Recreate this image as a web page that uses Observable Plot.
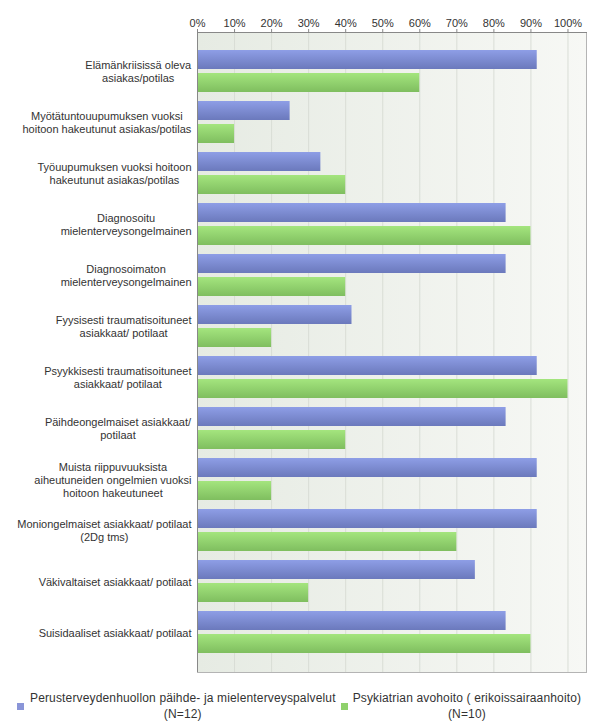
<!DOCTYPE html>
<html><head><meta charset="utf-8">
<script src="https://cdn.jsdelivr.net/npm/d3@7"></script>
<script src="https://cdn.jsdelivr.net/npm/@observablehq/plot@0.6"></script>
<style>
body{margin:0;background:#fff;font-family:"Liberation Sans",Arial,sans-serif;}
#chart{width:600px;height:680px;}
.legend{display:flex;align-items:center;padding-top:10px;font-size:12px;color:#333;line-height:16px;letter-spacing:0.15px}
.item{display:flex;align-items:center}
.sw{width:7px;height:7px;flex:none}
.lt{text-align:center;white-space:nowrap}
</style></head><body><div id="chart"></div><div class="legend" id="legend"></div>
<script>
const categories = [
  "Elämänkriisissä oleva\nasiakas/potilas",
  "Myötätuntouupumuksen vuoksi\nhoitoon hakeutunut asiakas/potilas",
  "Työuupumuksen vuoksi hoitoon\nhakeutunut asiakas/potilas",
  "Diagnosoitu\nmielenterveysongelmainen",
  "Diagnosoimaton\nmielenterveysongelmainen",
  "Fyysisesti traumatisoituneet\nasiakkaat/ potilaat",
  "Psyykkisesti traumatisoituneet\nasiakkaat/ potilaat",
  "Päihdeongelmaiset asiakkaat/\npotilaat",
  "Muista riippuvuuksista\naiheutuneiden ongelmien vuoksi\nhoitoon hakeutuneet",
  "Moniongelmaiset asiakkaat/ potilaat\n(2Dg tms)",
  "Väkivaltaiset asiakkaat/ potilaat",
  "Suisidaaliset asiakkaat/ potilaat"
];
const seriesNames = ["Perusterveydenhuollon päihde- ja mielenterveyspalvelut", "Psykiatrian avohoito ( erikoissairaanhoito)"];
const seriesN = ["(N=12)", "(N=10)"];
const perusValues = [0.917, 0.25, 0.333, 0.833, 0.833, 0.417, 0.917, 0.833, 0.917, 0.917, 0.75, 0.833];
const psykValues  = [0.6, 0.1, 0.4, 0.9, 0.4, 0.2, 1.0, 0.4, 0.2, 0.7, 0.3, 0.9];
const xTicks = [0, 0.1, 0.2, 0.3, 0.4, 0.5, 0.6, 0.7, 0.8, 0.9, 1.0];
const legendColors = ["#8a95d8", "#8fd16c"];

const perusData = categories.map((c, i) => ({category: c, series: seriesNames[0], value: perusValues[i]}));
const psykData = categories.map((c, i) => ({category: c, series: seriesNames[1], value: psykValues[i]}));

const chart = Plot.plot({
  width: 600, height: 680,
  marginTop: 32, marginBottom: 8, marginLeft: 197, marginRight: 14,
  style: {fontFamily: "'Liberation Sans', Arial, sans-serif", fontSize: "11px", color: "#333", background: "transparent"},
  x: {domain: [0, 1.05]},
  y: {domain: categories, paddingInner: 0.17, paddingOuter: 0.263},
  marks: [
    Plot.frame({fill: "url(#bgGrad)", stroke: "#b4b4b4"}),
    Plot.gridX(xTicks, {stroke: "#d9ddd6", strokeOpacity: 1}),
    Plot.barX(perusData, {x: "value", y: "category", fill: "url(#gBlue)", insetBottom: 23}),
    Plot.barX(psykData, {x: "value", y: "category", fill: "url(#gGreen)", insetTop: 23}),
    Plot.frame({anchor: "top", stroke: "#888"}),
    Plot.ruleX([0], {stroke: "#888"}),
    Plot.axisX(xTicks, {anchor: "top", label: null, tickFormat: d3.format(".0%"), tickSize: 4, tickPadding: 2, stroke: "#888", fill: "#333"}),
    Plot.axisY({anchor: "left", label: null, tickSize: 0, tickPadding: 6, textAnchor: "middle", lineHeight: 1.2, fill: "#333"})
  ]
});

const svg = d3.select(chart);
const defs = svg.insert("defs", ":first-child");
function vgrad(id, stops, horizontal) {
  const g = defs.append("linearGradient").attr("id", id)
    .attr("x1", 0).attr("y1", 0).attr("x2", horizontal ? 1 : 0).attr("y2", horizontal ? 0 : 1);
  stops.forEach(([o, c]) => g.append("stop").attr("offset", o).attr("stop-color", c));
}
vgrad("gBlue", [[0, "#8e9ee6"], [1, "#6b79bc"]]);
vgrad("gGreen", [[0, "#a4e57e"], [1, "#7fbe5f"]]);
vgrad("bgGrad", [[0, "#e6ebe3"], [1, "#f7f8f5"]], true);

document.getElementById("chart").append(chart);

svg.selectAll('g[aria-label="y-axis tick label"] text').each(function () {
  const w = this.getBBox().width;
  const t = this.getAttribute("transform") || "";
  this.setAttribute("transform", t + ` translate(${-w / 2},0)`);
});

const legend = d3.select("#legend");
seriesNames.forEach((s, i) => {
  const item = legend.append("div").attr("class", "item").style("margin-left", i === 0 ? "17px" : "5px");
  item.append("div").attr("class", "sw").style("background", legendColors[i]).style("margin-right", i === 0 ? "6px" : "5px");
  item.append("div").attr("class", "lt").html(s + "<br>" + seriesN[i]);
});
</script>
</body></html>
